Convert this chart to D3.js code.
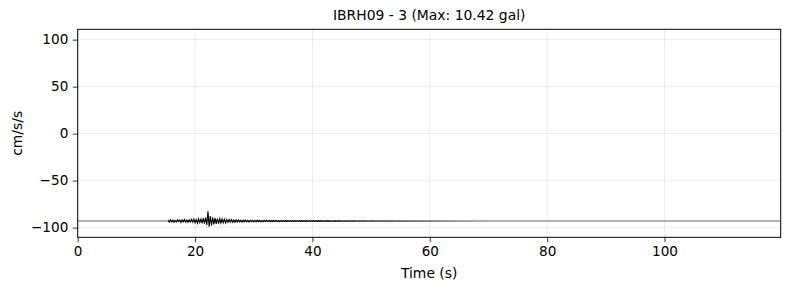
<!DOCTYPE html>
<html>
<head>
<meta charset="utf-8">
<script src="https://cdn.jsdelivr.net/npm/d3@7"></script>
<style>
  html, body { margin: 0; padding: 0; background: #fff; }
  svg { display: block; font-family: "DejaVu Sans", sans-serif; }
</style>
</head>
<body>
<svg id="chart" width="790" height="290"></svg>
<script>
// ---- data ----
const stationName = "IBRH09";
const componentId = "3";
const maxGal = 10.42;
const traceOffset = -93;          // vertical offset of the trace (cm/s/s)
const traceStart = 15.4;          // seconds
const sampleStep = 0.2;           // seconds
const xTicks = [0, 20, 40, 60, 80, 100];
const yTicks = [-100, -50, 0, 50, 100];
const xDomain = [0, 119.8];
const yDomain = [-110.3, 111];
// acceleration samples (gal)
const accel = [
  0.8,-1.2,1.5,-0.9,1.1,-1.4,0.7,-1.0,1.3,-0.6,
  1.0,-1.5,1.2,-0.8,1.6,-1.1,0.9,-1.3,1.4,-1.0,
  1.7,-1.2,2.0,-1.8,1.5,-2.2,2.4,-1.6,2.1,-2.5,
  3.0,-2.8,3.6,-4.1,10.42,-6.1,5.2,-4.8,4.0,-3.5,
  3.2,-2.9,2.6,-2.8,2.4,-2.0,2.2,-1.8,1.9,-2.1,
  1.6,-1.4,1.8,-1.2,1.5,-1.3,1.1,-1.4,1.2,-0.9,
  1.3,-1.0,0.9,-1.2,1.0,-0.8,1.1,-0.9,0.7,-1.0,
  0.9,-0.7,0.8,-0.9,0.6,-0.8,0.9,-0.6,0.7,-0.8,
  0.6,-0.7,0.8,-0.5,0.7,-0.6,0.5,-0.7,0.6,-0.5,
  0.7,-0.5,0.6,-0.6,0.5,-0.7,0.6,-0.4,0.5,-0.6,
  0.5,-0.5,0.6,-0.4,0.5,-0.5,0.4,-0.6,0.5,-0.4,
  0.5,-0.4,0.4,-0.5,0.6,-0.4,0.4,-0.5,0.4,-0.4,
  0.4,-0.4,0.5,-0.3,0.4,-0.4,0.3,-0.5,0.4,-0.3,
  0.4,-0.3,0.3,-0.4,0.5,-0.3,0.4,-0.3,0.3,-0.4,
  0.3,-0.4,0.4,-0.3,0.3,-0.3,0.4,-0.2,0.3,-0.4,
  0.3,-0.3,0.2,-0.4,0.3,-0.3,0.3,-0.2,0.4,-0.3,
  0.3,-0.2,0.3,-0.3,0.2,-0.3,0.3,-0.3,0.2,-0.2,
  0.3,-0.2,0.2,-0.3,0.2,-0.2,0.3,-0.2,0.2,-0.3,
  0.2,-0.2,0.3,-0.2,0.2,-0.2,0.2,-0.3,0.2,-0.2,
  0.2,-0.2,0.2,-0.2,0.3,-0.2,0.2,-0.2,0.2,-0.2,
  0.2,-0.15,0.2,-0.2,0.15,-0.2,0.2,-0.15,0.2,-0.2,
  0.15,-0.2,0.2,-0.15,0.15,-0.15,0.2,-0.15,0.15,-0.2,
  0.15,-0.15,0.15,-0.1,0.15,-0.15,0.1,-0.15,0.15,-0.1,
  0.1,-0.15,0.15,-0.1,0.1,-0.1,0.15,-0.1,0.1,-0.1,
  0.1,-0.1,0.1,-0.1,0.1,-0.1,0.1,-0.1,0.1,-0.1,
  0.1,-0.08,0.08,-0.1,0.08,-0.08,0.1,-0.08,0.08,-0.08,
  0.08,-0.06,0.06,-0.08,0.06,-0.06,0.05,-0.06,0.05,-0.05,
  0.05,-0.04,0.04
];

// ---- layout ----
const W = 790, H = 290;
const margin = { left: 77.7, right: 790 - 780.7, top: 29.3, bottom: 290 - 237.3 };
const svg = d3.select("#chart");
const x = d3.scaleLinear().domain(xDomain).range([margin.left, W - margin.right]);
const y = d3.scaleLinear().domain(yDomain).range([H - margin.bottom, margin.top]);
const fsTick = "13.6px";
const fsLabel = "13.9px";

// fade of the weak coda
const defs = svg.append("defs");
const grad = defs.append("linearGradient")
  .attr("id", "coda").attr("gradientUnits", "userSpaceOnUse")
  .attr("x1", x(42)).attr("x2", x(70)).attr("y1", 0).attr("y2", 0);
grad.append("stop").attr("offset", 0).attr("stop-color", "#000").attr("stop-opacity", 1);
grad.append("stop").attr("offset", 1).attr("stop-color", "#000").attr("stop-opacity", 0);

// grid
const grid = svg.append("g");
grid.selectAll("line.gx").data(xTicks).join("line")
  .attr("x1", d => x(d)).attr("x2", d => x(d))
  .attr("y1", y.range()[0]).attr("y2", y.range()[1])
  .attr("stroke", "#b0b0b0").attr("stroke-opacity", 0.3).attr("stroke-width", 0.8);
grid.selectAll("line.gy").data(yTicks).join("line")
  .attr("y1", d => y(d)).attr("y2", d => y(d))
  .attr("x1", x.range()[0]).attr("x2", x.range()[1])
  .attr("stroke", "#b0b0b0").attr("stroke-opacity", 0.3).attr("stroke-width", 0.8);

// offset baseline
svg.append("line")
  .attr("x1", x.range()[0]).attr("x2", x.range()[1])
  .attr("y1", y(traceOffset)).attr("y2", y(traceOffset))
  .attr("stroke", "#808080").attr("stroke-opacity", 0.8).attr("stroke-width", 1.5);

// trace
const pts = accel.map((v, i) => [traceStart + i * sampleStep, v + traceOffset]);
svg.append("path")
  .datum(pts)
  .attr("fill", "none")
  .attr("stroke", "url(#coda)")
  .attr("stroke-width", 1.1)
  .attr("stroke-linejoin", "miter")
  .attr("d", d3.line().x(d => x(d[0])).y(d => y(d[1])));

// axes
const xAxis = svg.append("g")
  .attr("transform", `translate(0,${y.range()[0]})`)
  .call(d3.axisBottom(x).tickValues(xTicks).tickSize(4.9).tickPadding(4.5)
    .tickFormat(d3.format("d")));
const yAxis = svg.append("g")
  .attr("transform", `translate(${x.range()[0]},0)`)
  .call(d3.axisLeft(y).tickValues(yTicks).tickSize(4.9).tickPadding(4.5)
    .tickFormat(d => d < 0 ? "\u2212" + Math.abs(d) : String(d)));
[xAxis, yAxis].forEach(a => {
  a.select(".domain").remove();
  a.selectAll("text").attr("font-size", fsTick).attr("fill", "#000")
    .attr("font-family", "DejaVu Sans, sans-serif");
  a.selectAll("line").attr("stroke", "#000").attr("stroke-width", 0.8);
});

// frame
svg.append("rect")
  .attr("x", x.range()[0]).attr("y", y.range()[1])
  .attr("width", x.range()[1] - x.range()[0])
  .attr("height", y.range()[0] - y.range()[1])
  .attr("fill", "none").attr("stroke", "#000").attr("stroke-width", 1);

// labels
svg.append("text")
  .attr("x", (x.range()[0] + x.range()[1]) / 2).attr("y", 20)
  .attr("text-anchor", "middle").attr("font-size", fsLabel)
  .text(`${stationName} - ${componentId} (Max: ${maxGal.toFixed(2)} gal)`);
svg.append("text")
  .attr("x", (x.range()[0] + x.range()[1]) / 2).attr("y", 278)
  .attr("text-anchor", "middle").attr("font-size", fsLabel)
  .text("Time (s)");
svg.append("text")
  .attr("transform", `translate(21.5,${(y.range()[0] + y.range()[1]) / 2}) rotate(-90)`)
  .attr("text-anchor", "middle").attr("font-size", fsLabel)
  .text("cm/s/s");
</script>
</body>
</html>
